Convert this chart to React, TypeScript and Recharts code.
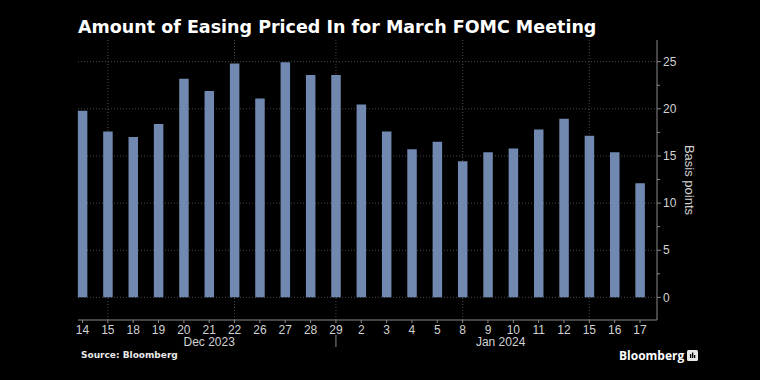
import { Bar, BarChart, CartesianGrid, XAxis, YAxis } from "recharts";

// Trading days, 14 Dec 2023 .. 17 Jan 2024
const DAYS = [
  "14", "15", "18", "19", "20", "21", "22", "26", "27", "28", "29",
  "2", "3", "4", "5", "8", "9", "10", "11", "12", "15", "16", "17",
];

// Basis points of easing priced in for the March meeting
const EASING = [
  19.8, 17.6, 17.0, 18.4, 23.2, 21.9, 24.8, 21.1, 24.95, 23.6, 23.6,
  20.45, 17.6, 15.7, 16.5, 14.45, 15.4, 15.8, 17.8, 18.95, 17.15, 15.4, 12.1,
];

// Month labels sit under the middle of each month's run of days
const MONTH_LABELS = ["Dec 2023", "Jan 2024"];
const MONTH_POS = [5, 16.5];
const MONTH_SPLIT = 10;

const Y_MAJOR = [0, 5, 10, 15, 20, 25];
const Y_MINOR = [2.5, 7.5, 12.5, 17.5, 22.5];
// weekly vertical gridlines (index into DAYS)
const WEEK_LINES = [1, 6, 10, 15, 20];

const data = DAYS.map((d, i) => ({ i, day: d, value: EASING[i] }));

const BG = "#000000";
const BAR = "#7189b0";
const AXIS = "#8a8a8a";
const GRID = "#4a4a4a";
const TEXT = "#d2d2d2";
const FONT = "'Liberation Sans', Arial, sans-serif";

function YTick(props: any) {
  const { x, y, payload } = props;
  const major = payload.value % 5 === 0;
  return (
    <g>
      <line x1={x} x2={x + (major ? 4 : 3)} y1={y} y2={y} stroke={AXIS} />
      {major && (
        <text x={x + 6} y={y} dy="0.35em" fill={TEXT} fontSize={12} fontFamily={FONT}>
          {payload.value}
        </text>
      )}
    </g>
  );
}

function MonthTick(props: any) {
  const { x, y, payload } = props;
  if (payload.value === MONTH_SPLIT) {
    return <line x1={x} x2={x} y1={y - 1} y2={y + 11} stroke={AXIS} />;
  }
  const idx = MONTH_POS.indexOf(payload.value);
  return (
    <text x={x} y={y + 10} textAnchor="middle" fill={TEXT} fontSize={12} fontFamily={FONT}>
      {MONTH_LABELS[idx]}
    </text>
  );
}

export default function App() {
  return (
    <div
      style={{
        position: "relative",
        width: 760,
        height: 380,
        background: BG,
        overflow: "hidden",
      }}
    >
      <style>{`body{margin:0}`}</style>
      <div
        style={{
          position: "absolute",
          left: 78,
          top: 17,
          color: "#fff",
          fontFamily: "'DejaVu Sans', Verdana, sans-serif",
          fontWeight: 700,
          fontSize: 17.5,
          lineHeight: "20px",
          whiteSpace: "nowrap",
        }}
      >
        Amount of Easing Priced In for March FOMC Meeting
      </div>

      <BarChart
        width={760}
        height={380}
        data={data}
        margin={{ top: 40, right: 63, bottom: 24, left: 78 }}
      >
        <CartesianGrid
          stroke={GRID}
          strokeDasharray="1 2"
          horizontalValues={Y_MAJOR}
          verticalValues={WEEK_LINES}
        />
        <XAxis
          xAxisId={0}
          dataKey="i"
          type="number"
          domain={[-0.178, 22.67]}
          ticks={DAYS.map((_, i) => i)}
          tickFormatter={(v: number) => DAYS[v] ?? ""}
          interval={0}
          height={16}
          stroke={AXIS}
          tickSize={3}
          tickMargin={2}
          tick={{ fill: TEXT, fontSize: 12, fontFamily: FONT }}
        />
        <XAxis
          xAxisId={1}
          dataKey="i"
          type="number"
          domain={[-0.178, 22.67]}
          ticks={[...MONTH_POS, MONTH_SPLIT]}
          interval={0}
          height={20}
          axisLine={false}
          tickLine={false}
          tickSize={0}
          tickMargin={0}
          tick={<MonthTick />}
        />
        <YAxis
          orientation="right"
          domain={[-2.4, 27.3]}
          ticks={[...Y_MAJOR, ...Y_MINOR].sort((a, b) => a - b)}
          interval={0}
          width={40}
          stroke={AXIS}
          tickLine={false}
          tickSize={0}
          tickMargin={0}
          tick={<YTick />}
        />
        <Bar
          dataKey="value"
          xAxisId={0}
          fill={BAR}
          barSize={9.5}
          isAnimationActive={false}
        />
      </BarChart>

      <div
        style={{
          position: "absolute",
          left: 689,
          top: 180,
          transform: "translate(-50%, -50%) rotate(90deg)",
          color: TEXT,
          fontFamily: FONT,
          fontSize: 13,
          whiteSpace: "nowrap",
        }}
      >
        Basis points
      </div>

      <div
        style={{
          position: "absolute",
          left: 81,
          top: 350,
          color: "#e8e8e8",
          fontFamily: "'DejaVu Sans', Verdana, sans-serif",
          fontWeight: 700,
          fontSize: 9,
        }}
      >
        Source: Bloomberg
      </div>

      <div
        style={{
          position: "absolute",
          left: 619,
          top: 347,
          display: "flex",
          alignItems: "center",
          gap: 3,
          color: "#fff",
          fontFamily: "'Open Sans', sans-serif",
          fontWeight: 700,
          fontSize: 12,
        }}
      >
        <span>Bloomberg</span>
        <svg width={11} height={11} viewBox="0 0 11 11">
          <rect x={0} y={0} width={11} height={11} rx={1.5} fill="#e8e8e8" />
          <rect x={3} y={4} width={1.3} height={4} fill="#000" />
          <rect x={5} y={2.5} width={1.3} height={5.5} fill="#000" />
          <rect x={7} y={5} width={1.3} height={3} fill="#000" />
        </svg>
      </div>
    </div>
  );
}
